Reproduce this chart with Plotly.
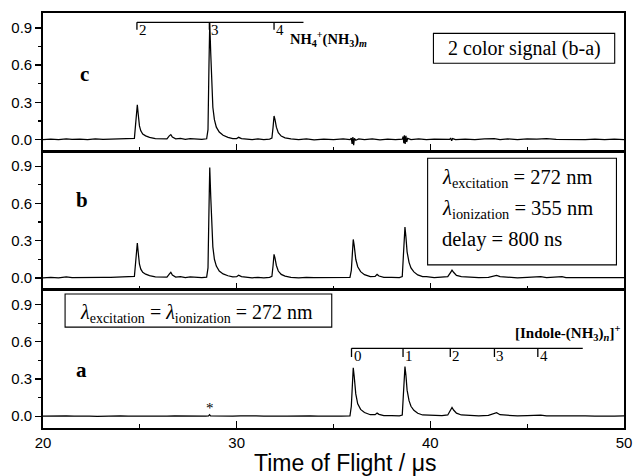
import plotly.graph_objects as go
from plotly.subplots import make_subplots

# ---- data (time of flight in microseconds, signal) ----
t_c = [20.0, 20.4, 20.8, 21.2, 21.5, 21.9, 22.3, 22.7, 23.1, 23.5, 23.9, 24.3, 24.6, 24.72,
       24.78, 24.83, 24.87, 24.92, 24.98, 25.05, 25.15, 25.3, 25.5, 25.8, 26.1, 26.4, 26.52, 26.6,
       26.68, 26.85, 27.1, 27.35, 27.6, 27.9, 28.2, 28.45, 28.52, 28.57, 28.61, 28.66, 28.71,
       28.77, 28.85, 28.95, 29.1, 29.3, 29.55, 29.8, 30.0, 30.1, 30.25, 30.5, 30.8, 31.1, 31.4,
       31.7, 31.82, 31.88, 31.93, 31.98, 32.05, 32.15, 32.3, 32.5, 32.8, 33.2, 33.6, 34.0, 34.5,
       35.0, 35.5, 35.85, 35.92, 35.96, 36.0, 36.04, 36.08, 36.15, 36.3, 36.6, 37.0, 37.4, 37.8,
       38.2, 38.55, 38.6, 38.63, 38.66, 38.7, 38.74, 38.78, 38.83, 39.0, 39.4, 39.8, 40.2, 40.6,
       41.0, 41.05, 41.1, 41.15, 41.3, 41.8, 42.3, 42.8, 43.3, 43.6, 44.0, 44.5, 45.0, 45.5,
       46.0, 46.5, 47.0, 47.5, 48.0, 48.5, 49.0, 49.5, 50.0]
y_c = [0.0, 0.004, 0.0, 0.006, 0.001, 0.004, 0.0, 0.005, 0.002, 0.004, 0.003, 0.008, 0.012, 0.01,
       0.12, 0.24, 0.28, 0.2, 0.11, 0.07, 0.045, 0.03, 0.018, 0.008, 0.004, 0.006, 0.03, 0.04,
       0.02, 0.006, 0.01, 0.002, 0.008, 0.003, 0.002, 0.006, 0.08, 0.6, 0.94, 0.7, 0.42,
       0.26, 0.16, 0.1, 0.06, 0.035, 0.018, 0.008, 0.008, 0.018, 0.008, 0.003, 0.0, 0.005, 0.0,
       0.004, 0.012, 0.1, 0.19, 0.16, 0.1, 0.055, 0.028, 0.014, 0.005, 0.0, 0.005, -0.003, 0.004,
       0.0, 0.005, 0.0, 0.012, -0.035, 0.02, -0.045, 0.01, -0.006, 0.005, 0.0, 0.005, -0.002, 0.004,
       0.0, 0.003, 0.025, -0.03, 0.035, -0.035, 0.03, -0.02, 0.01, 0.0, 0.005, 0.0, 0.004, 0.0,
       0.002, 0.012, -0.01, 0.008, 0.0, 0.004, 0.0, 0.005, 0.008, 0.0, 0.005, 0.0, 0.006, 0.003,
       0.008, 0.002, 0.0, 0.004, 0.0, 0.003, 0.0, 0.004, 0.0]

t_b = [20.0, 20.4, 20.8, 21.2, 21.5, 21.9, 22.3, 22.7, 23.1, 23.5, 23.9, 24.3, 24.6, 24.72,
       24.78, 24.83, 24.87, 24.92, 24.98, 25.05, 25.15, 25.3, 25.5, 25.8, 26.1, 26.4, 26.52, 26.6,
       26.68, 26.85, 27.1, 27.35, 27.6, 27.9, 28.2, 28.45, 28.52, 28.57, 28.61, 28.66, 28.71,
       28.77, 28.85, 28.95, 29.1, 29.3, 29.55, 29.8, 30.0, 30.1, 30.25, 30.5, 30.8, 31.1, 31.4,
       31.7, 31.82, 31.88, 31.93, 31.98, 32.05, 32.15, 32.3, 32.5, 32.8, 33.2, 33.6, 34.0, 34.5,
       35.0, 35.5, 35.85, 35.92, 35.97, 36.02, 36.07, 36.15, 36.25, 36.4, 36.6, 36.9, 37.15, 37.25,
       37.35, 37.6, 38.0, 38.4, 38.55, 38.6, 38.65, 38.69, 38.74, 38.8, 38.9, 39.0, 39.15, 39.35,
       39.6, 39.8, 40.2, 40.6, 40.9, 41.05, 41.12, 41.2, 41.35, 41.6, 42.0, 42.5, 43.0, 43.3,
       43.42, 43.6, 44.0, 44.5, 45.0, 45.5, 45.7, 46.0, 46.5, 46.8, 47.0, 47.5, 48.0, 48.5, 49.0,
       49.5, 50.0]
y_b = [0.0, 0.005, 0.0, 0.008, 0.002, 0.004, 0.007, 0.003, 0.005, 0.004, 0.008, 0.01, 0.014, 0.012,
       0.12, 0.24, 0.28, 0.2, 0.11, 0.07, 0.045, 0.03, 0.018, 0.008, 0.004, 0.006, 0.03, 0.045,
       0.022, 0.006, 0.01, 0.002, 0.008, 0.003, 0.002, 0.006, 0.08, 0.55, 0.89, 0.66, 0.4,
       0.25, 0.15, 0.095, 0.055, 0.032, 0.017, 0.008, 0.01, 0.022, 0.01, 0.003, 0.0, 0.005, 0.0,
       0.004, 0.012, 0.1, 0.19, 0.16, 0.1, 0.055, 0.028, 0.014, 0.005, 0.0, 0.005, 0.002, 0.004,
       0.001, 0.005, 0.004, 0.06, 0.22, 0.31, 0.26, 0.15, 0.09, 0.05, 0.026, 0.01, 0.012, 0.028,
       0.015, 0.005, 0.005, 0.003, 0.01, 0.14, 0.36, 0.41, 0.33, 0.21, 0.125, 0.08, 0.048, 0.024,
       0.01, 0.01, 0.003, 0.005, 0.01, 0.045, 0.062, 0.045, 0.02, 0.01, 0.005, 0.003, 0.005, 0.015,
       0.02, 0.01, 0.005, 0.0, 0.005, 0.012, 0.01, 0.003, 0.005, 0.01, 0.003, 0.002, 0.003, 0.0,
       0.004, 0.002, 0.003]

t_a = [20.0, 20.4, 20.8, 21.2, 21.6, 22.0, 22.4, 22.8, 23.2, 23.6, 24.0, 24.4, 24.8, 25.2, 25.6,
       26.0, 26.4, 26.8, 27.2, 27.6, 28.0, 28.4, 28.55, 28.6, 28.65, 29.0, 29.4, 29.8, 30.2, 30.6,
       31.0, 31.4, 31.8, 32.2, 32.6, 33.0, 33.4, 33.8, 34.2, 34.6, 35.0, 35.4, 35.85, 35.92, 35.97,
       36.02, 36.07, 36.15, 36.25, 36.4, 36.6, 36.9, 37.15, 37.25, 37.35, 37.6, 38.0, 38.4, 38.55,
       38.6, 38.65, 38.69, 38.74, 38.8, 38.9, 39.0, 39.15, 39.35, 39.6, 39.8, 40.2, 40.6, 40.9,
       41.05, 41.12, 41.2, 41.35, 41.6, 42.0, 42.5, 43.0, 43.3, 43.42, 43.6, 44.0, 44.5, 45.0, 45.5,
       45.7, 46.0, 46.5, 47.0, 47.5, 48.0, 48.5, 49.0, 49.5, 50.0]
y_a = [0.0, 0.002, -0.001, 0.003, 0.0, 0.002, 0.001, -0.001, 0.002, 0.0, 0.003, 0.001, 0.0, 0.002,
       -0.001, 0.002, 0.0, 0.003, 0.001, 0.0, 0.002, 0.0, 0.002, 0.012, 0.002, 0.0, 0.002, 0.0,
       0.003, 0.0, 0.002, 0.0, 0.003, 0.001, 0.0, 0.002, 0.0, 0.003, 0.0, 0.002, 0.001, 0.0, 0.003,
       0.08, 0.27, 0.39, 0.32, 0.18, 0.1, 0.055, 0.03, 0.012, 0.012, 0.025, 0.015, 0.005, 0.005,
       0.003, 0.01, 0.15, 0.35, 0.40, 0.33, 0.21, 0.125, 0.08, 0.048, 0.024, 0.01, 0.008, 0.003,
       0.005, 0.01, 0.05, 0.07, 0.05, 0.025, 0.01, 0.005, 0.003, 0.006, 0.02, 0.028, 0.012, 0.005,
       0.002, 0.004, 0.01, 0.008, 0.003, 0.004, 0.002, 0.003, 0.002, 0.0, 0.003, 0.001, 0.002]

# cluster assignments (peak positions)
nh4_times = [24.85, 28.59, 31.93]
nh4_labels = ["2", "3", "4"]
nh4_bracket_end = 33.45
nh4_level = 0.945

indole_times = [35.93, 38.59, 41.03, 43.31, 45.55]
indole_labels = ["0", "1", "2", "3", "4"]
indole_bracket_end = 47.87
indole_level = 0.547

x_ticks = [20, 30, 40, 50]
y_ticks = [0.0, 0.3, 0.6, 0.9]
y_ticktext = ["0.0", "0.3", "0.6", "0.9"]

SERIF = "Liberation Serif, Times New Roman, serif"
SANS = "Liberation Sans, Arial, sans-serif"

fig = make_subplots(rows=3, cols=1, shared_xaxes=True, vertical_spacing=0)

line = dict(color="black", width=1.25)
fig.add_trace(go.Scatter(x=t_c, y=y_c, mode="lines", line=line), row=1, col=1)
fig.add_trace(go.Scatter(x=t_b, y=y_b, mode="lines", line=line), row=2, col=1)
fig.add_trace(go.Scatter(x=t_a, y=y_a, mode="lines", line=line), row=3, col=1)

# bracket drawings built from the peak position arrays
def bracket(times, end, level, drop):
    xs, ys = [times[0], end], [level, level]
    for t in times:
        xs += [None, t, t]
        ys += [None, level, level - drop]
    return xs, ys

bx, by = bracket(nh4_times, nh4_bracket_end, nh4_level, 0.06)
fig.add_trace(go.Scatter(x=bx, y=by, mode="lines", line=dict(color="black", width=1.3)), row=1, col=1)
bx, by = bracket(indole_times, indole_bracket_end, indole_level, 0.07)
fig.add_trace(go.Scatter(x=bx, y=by, mode="lines", line=dict(color="black", width=1.3)), row=3, col=1)

annotations = []
for t, lab in zip(nh4_times, nh4_labels):
    annotations.append(dict(x=t, y=nh4_level, xref="x", yref="y", text=lab, showarrow=False,
                            xanchor="left", yanchor="top", xshift=0, yshift=2,
                            font=dict(family=SERIF, size=15, color="black")))
for t, lab in zip(indole_times, indole_labels):
    annotations.append(dict(x=t, y=indole_level, xref="x3", yref="y3", text=lab, showarrow=False,
                            xanchor="left", yanchor="top", xshift=0, yshift=2,
                            font=dict(family=SERIF, size=15, color="black")))

def ann(x, y, text, size=17, xanchor="center"):
    return dict(x=x, y=y, xref="paper", yref="paper", text=text, showarrow=False,
                xanchor=xanchor, yanchor="middle",
                font=dict(family=SERIF, size=size, color="black"))

annotations += [
    ann(0.072, 0.853, "<b>c</b>", 21),
    ann(0.067, 0.549, "<b>b</b>", 21),
    ann(0.067, 0.140, "<b>a</b>", 21),
    ann(0.422, 0.938, "<b>NH<sub>4</sub><sup>+</sup>(NH<sub>3</sub>)<sub><i>m</i></sub></b>", 14.5, "left"),
    ann(0.997, 0.230, "<b>[Indole-(NH<sub>3</sub>)<sub><i>n</i></sub>]<sup>+</sup></b>", 15, "right"),
    ann(0.828, 0.915, "2 color signal (b-a)", 20),
    ann(0.683, 0.602, "<i>λ</i><sub>excitation</sub> = 272 nm", 20.5, "left"),
    ann(0.683, 0.527, "<i>λ</i><sub>ionization</sub> = 355 nm", 20.5, "left"),
    ann(0.683, 0.455, "delay = 800 ns", 20.5, "left"),
    ann(0.060, 0.275, "<i>λ</i><sub>excitation</sub> = <i>λ</i><sub>ionization</sub> = 272 nm", 20, "left"),
    dict(x=28.6, y=0.07, xref="x3", yref="y3", text="*", showarrow=False,
         font=dict(family=SERIF, size=15, color="black"), yanchor="middle"),
    dict(x=0.52, y=-0.084, xref="paper", yref="paper", text="Time of Flight / μs", showarrow=False,
         xanchor="center", yanchor="middle", font=dict(family=SANS, size=23, color="black")),
]

box = dict(type="rect", xref="paper", yref="paper", line=dict(color="black", width=1.1),
           fillcolor="rgba(0,0,0,0)", layer="above")
shapes = [
    dict(box, x0=0.672, x1=0.984, y0=0.879, y1=0.951),
    dict(box, x0=0.662, x1=0.987, y0=0.393, y1=0.650),
    dict(box, x0=0.038, x1=0.497, y0=0.243, y1=0.323),
]

fig.update_layout(
    width=633, height=476,
    margin=dict(l=43, r=9, t=13, b=48, autoexpand=False),
    paper_bgcolor="white", plot_bgcolor="white",
    showlegend=False,
    annotations=annotations,
    shapes=shapes,
)

for r in (1, 2, 3):
    fig.update_xaxes(range=[20, 50], tickvals=x_ticks, ticks="inside", ticklen=7, tickwidth=1.3,
                     minor=dict(dtick=5, tick0=20, ticks="inside", ticklen=4, tickwidth=1.3, tickcolor="black"),
                     showline=True, linecolor="black", linewidth=1.8, mirror=True,
                     showgrid=False, zeroline=False, tickcolor="black", automargin=False,
                     showticklabels=(r == 3), ticklabeloverflow="allow",
                     tickfont=dict(family=SANS, size=15, color="black"), row=r, col=1)
    fig.update_yaxes(range=[-0.095, 1.02], tickvals=y_ticks, ticktext=y_ticktext,
                     ticks="outside", ticklen=6, tickwidth=1.3, tickcolor="black",
                     minor=dict(tickvals=[0.15, 0.45, 0.75], ticks="outside", ticklen=3, tickwidth=1.3, tickcolor="black"),
                     showline=True, linecolor="black", linewidth=1.8, mirror=True,
                     showgrid=False, zeroline=False, automargin=False,
                     tickfont=dict(family=SANS, size=15, color="black"), row=r, col=1)

# remove the default page margin so the figure sits at the window's top-left corner
fig.write_html("out.html", config={"displayModeBar": False, "staticPlot": True},
               post_script="document.body.style.margin='0';document.body.style.overflow='hidden';")
